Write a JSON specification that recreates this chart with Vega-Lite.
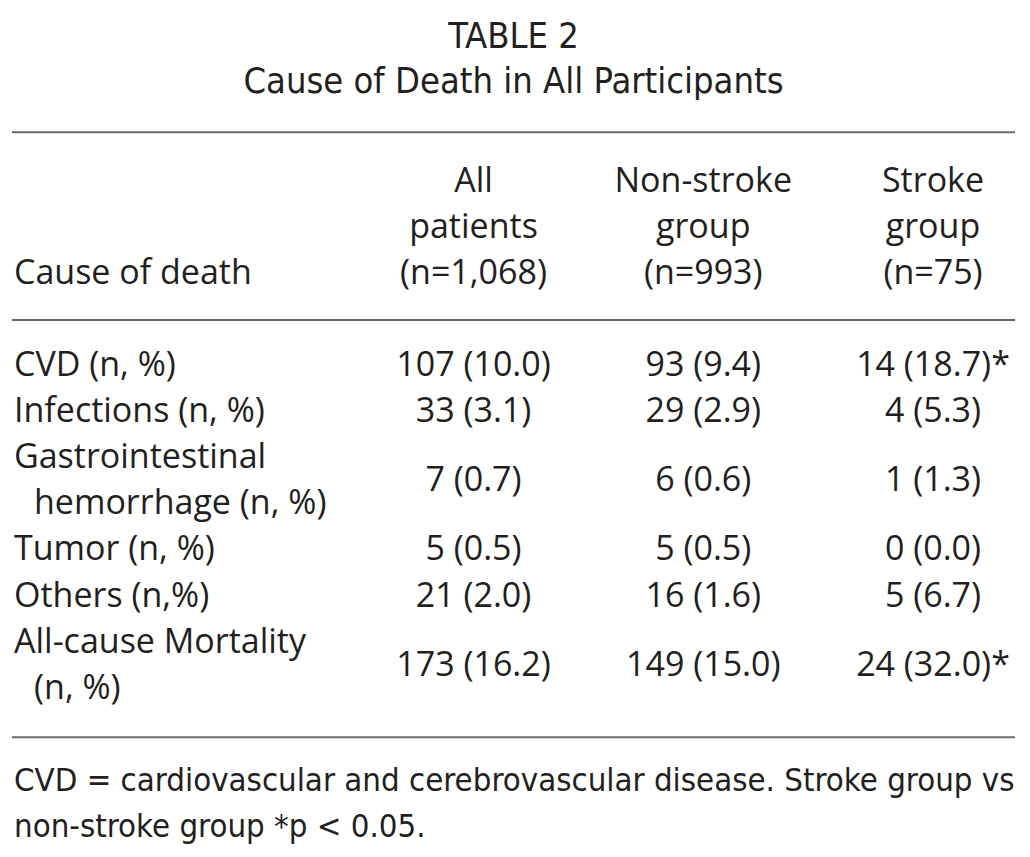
{
  "$schema": "https://vega.github.io/schema/vega-lite/v6.json",
  "width": 1003,
  "height": 857,
  "autosize": "none",
  "padding": {"left": 12, "right": 15, "top": 0, "bottom": 0},
  "background": "white",
  "config": {"view": {"stroke": null}},
  "datasets": {
    "cells": [
      {"row": -7.14, "col": "center", "part": "title", "text": "TABLE 2"},
      {"row": -6.16, "col": "center", "part": "title", "text": "Cause of Death in All Participants"},
      {"row": -4, "col": "all", "part": "body", "text": "All"},
      {"row": -4, "col": "non", "part": "body", "text": "Non-stroke"},
      {"row": -4, "col": "stroke", "part": "body", "text": "Stroke"},
      {"row": -3, "col": "all", "part": "body", "text": "patients"},
      {"row": -3, "col": "non", "part": "body", "text": "group"},
      {"row": -3, "col": "stroke", "part": "body", "text": "group"},
      {"row": -2, "col": "left", "part": "label", "text": "Cause of death"},
      {"row": -2, "col": "all", "part": "body", "text": "(n=1,068)"},
      {"row": -2, "col": "non", "part": "body", "text": "(n=993)"},
      {"row": -2, "col": "stroke", "part": "body", "text": "(n=75)"},
      {"row": 0, "col": "left", "part": "label", "text": "CVD (n, %)"},
      {"row": 0, "col": "all", "part": "body", "text": "107 (10.0)"},
      {"row": 0, "col": "non", "part": "body", "text": "93 (9.4)"},
      {"row": 0, "col": "stroke", "part": "body", "text": "14 (18.7)*"},
      {"row": 1, "col": "left", "part": "label", "text": "Infections (n, %)"},
      {"row": 1, "col": "all", "part": "body", "text": "33 (3.1)"},
      {"row": 1, "col": "non", "part": "body", "text": "29 (2.9)"},
      {"row": 1, "col": "stroke", "part": "body", "text": "4 (5.3)"},
      {"row": 2, "col": "left", "part": "label", "text": "Gastrointestinal"},
      {"row": 2.5, "col": "all", "part": "body", "text": "7 (0.7)"},
      {"row": 2.5, "col": "non", "part": "body", "text": "6 (0.6)"},
      {"row": 2.5, "col": "stroke", "part": "body", "text": "1 (1.3)"},
      {"row": 3, "col": "left", "part": "indent", "text": "hemorrhage (n, %)"},
      {"row": 4, "col": "left", "part": "label", "text": "Tumor (n, %)"},
      {"row": 4, "col": "all", "part": "body", "text": "5 (0.5)"},
      {"row": 4, "col": "non", "part": "body", "text": "5 (0.5)"},
      {"row": 4, "col": "stroke", "part": "body", "text": "0 (0.0)"},
      {"row": 5, "col": "left", "part": "label", "text": "Others (n,%)"},
      {"row": 5, "col": "all", "part": "body", "text": "21 (2.0)"},
      {"row": 5, "col": "non", "part": "body", "text": "16 (1.6)"},
      {"row": 5, "col": "stroke", "part": "body", "text": "5 (6.7)"},
      {"row": 6, "col": "left", "part": "label", "text": "All-cause Mortality"},
      {"row": 6.5, "col": "all", "part": "body", "text": "173 (16.2)"},
      {"row": 6.5, "col": "non", "part": "body", "text": "149 (15.0)"},
      {"row": 6.5, "col": "stroke", "part": "body", "text": "24 (32.0)*"},
      {"row": 7, "col": "left", "part": "indent", "text": "(n, %)"},
      {"row": 9, "col": "left", "part": "foot", "text": "CVD = cardiovascular and cerebrovascular disease. Stroke group vs"},
      {"row": 10, "col": "left", "part": "foot", "text": "non-stroke group *p < 0.05."}
    ],
    "rules": [
      {"row": -5.07, "rule": "top"},
      {"row": -1, "rule": "mid"},
      {"row": 8.05, "rule": "bottom"}
    ]
  },
  "encoding": {
    "y": {
      "field": "row",
      "type": "quantitative",
      "axis": null,
      "scale": {"domain": [-7.94, 10.65], "reverse": true, "zero": false, "nice": false}
    }
  },
  "layer": [
    {
      "data": {"name": "rules"},
      "transform": [{"filter": "datum.rule !== 'mid'"}],
      "mark": {"type": "rule", "color": "#6b6b6b", "strokeWidth": 2},
      "encoding": {}
    },
    {
      "data": {"name": "rules"},
      "transform": [{"filter": "datum.rule === 'mid'"}],
      "mark": {"type": "rule", "color": "#333333", "strokeWidth": 1.5},
      "encoding": {}
    },
    {
      "data": {"name": "cells"},
      "transform": [{"filter": "datum.part === 'title'"}],
      "mark": {"type": "text", "align": "center", "baseline": "middle", "font": "DejaVu Sans Condensed, Liberation Sans Narrow, sans-serif", "fontSize": 36, "color": "#231f20"},
      "encoding": {"text": {"field": "text"}}
    },
    {
      "data": {"name": "cells"},
      "layer": [
        {
          "transform": [{"filter": "datum.part === 'label'"}],
          "mark": {"type": "text", "align": "left", "baseline": "middle", "font": "Open Sans, sans-serif", "fontSize": 34, "color": "#231f20"}
        },
        {
          "transform": [{"filter": "datum.part === 'indent'"}],
          "mark": {"type": "text", "align": "left", "baseline": "middle", "font": "Open Sans, sans-serif", "fontSize": 34, "color": "#231f20", "dx": 20}
        },
        {
          "transform": [{"filter": "datum.part === 'body'"}],
          "mark": {"type": "text", "align": "center", "baseline": "middle", "font": "Open Sans, sans-serif", "fontSize": 34, "color": "#231f20"}
        },
        {
          "transform": [{"filter": "datum.part === 'foot'"}],
          "mark": {"type": "text", "align": "left", "baseline": "middle", "font": "DejaVu Sans Condensed, Liberation Sans Narrow, sans-serif", "fontSize": 32.7, "color": "#231f20"}
        }
      ],
      "encoding": {
        "x": {
          "field": "col",
          "type": "nominal",
          "axis": null,
          "scale": {"type": "point", "domain": ["left", "gap", "all", "non", "stroke"], "range": [2, 921], "padding": 0}
        },
        "text": {"field": "text"}
      }
    }
  ]
}
